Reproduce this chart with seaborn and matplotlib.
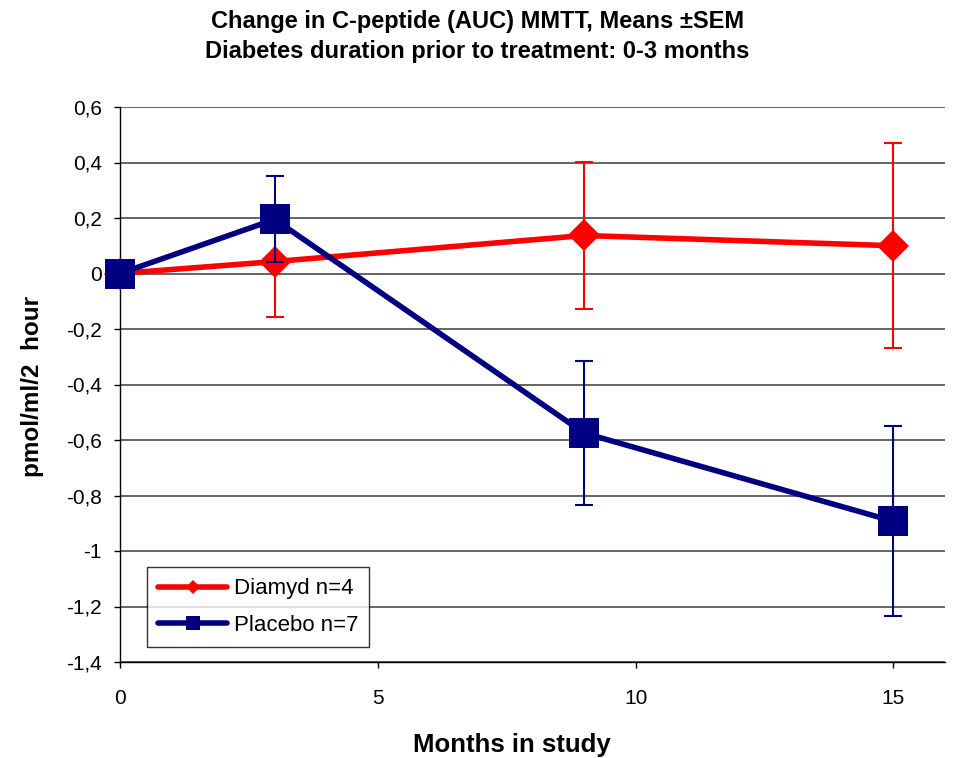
import matplotlib
matplotlib.use("Agg")
import matplotlib.pyplot as plt
import seaborn as sns
import pandas as pd

months = [0, 3, 9, 15]
diamyd_mean = [0.0, 0.043, 0.137, 0.10]
diamyd_sem = [0.0, 0.20, 0.265, 0.37]
placebo_mean = [0.0, 0.195, -0.575, -0.893]
placebo_sem = [0.0, 0.155, 0.258, 0.342]
series_names = ["Diamyd n=4", "Placebo n=7"]
yticks = [0.6, 0.4, 0.2, 0.0, -0.2, -0.4, -0.6, -0.8, -1.0, -1.2, -1.4]
ytick_labels = ["0,6", "0,4", "0,2", "0", "-0,2", "-0,4", "-0,6", "-0,8", "-1", "-1,2", "-1,4"]
xticks = [0, 5, 10, 15]
title_lines = ["Change in C-peptide (AUC) MMTT, Means ±SEM",
               "Diabetes duration prior to treatment: 0-3 months"]

sns.set_style("white")
plt.rcParams['font.family'] = ['Liberation Sans', 'DejaVu Sans']
for k in ["text.color", "axes.labelcolor", "xtick.color", "ytick.color"]:
    plt.rcParams[k] = "black"

df = pd.DataFrame({
    "month": months * 2,
    "value": diamyd_mean + placebo_mean,
    "group": [series_names[0]] * 4 + [series_names[1]] * 4,
})

fig = plt.figure(figsize=(9.55, 7.58), dpi=100)
ax = fig.add_axes([120/955, 1 - 662/758, (945-120)/955, (662-107)/758])

# horizontal gridlines
for yt in yticks:
    ax.axhline(yt, color="#3a3a3a", lw=1.1, zorder=0)

# error bars
ax.errorbar(months, diamyd_mean, yerr=diamyd_sem, fmt="none", ecolor="#FF0000",
            elinewidth=1.5, capsize=6.5, capthick=1.5, zorder=2)
ax.errorbar(months, placebo_mean, yerr=placebo_sem, fmt="none", ecolor="#000080",
            elinewidth=1.5, capsize=6.5, capthick=1.5, zorder=4)

sns.lineplot(data=df[df.group == series_names[0]], x="month", y="value", color="#FF0000",
             marker="D", markersize=16, markeredgewidth=0, lw=4, ax=ax, zorder=3,
             label=series_names[0], clip_on=False)
sns.lineplot(data=df[df.group == series_names[1]], x="month", y="value", color="#000080",
             marker="s", markersize=22, markeredgewidth=0, lw=4, ax=ax, zorder=5,
             label=series_names[1], clip_on=False)

ax.set_xlim(0, 16)
ax.set_ylim(-1.4, 0.6)
ax.set_xticks(xticks)
ax.set_yticks(yticks)
ax.set_yticklabels(ytick_labels)
ax.tick_params(axis="both", direction="out", length=4.5, width=1, color="black",
               labelsize=15, bottom=True, left=True)
ax.tick_params(axis="y", pad=8.5)
ax.tick_params(axis="x", pad=15)
for s in ["top", "right"]:
    ax.spines[s].set_visible(False)
for s in ["left", "bottom"]:
    ax.spines[s].set_color("black")
    ax.spines[s].set_linewidth(1)

ax.set_xlabel("Months in study", fontsize=18.5, fontweight="bold")
ax.xaxis.set_label_coords((512-120)/825, (662-733)/555)
ax.set_ylabel("pmol/ml/2  hour", fontsize=17.5, fontweight="bold")
ax.yaxis.set_label_coords((44-120)/825, 0.497)

fig.text(0.5, 1 - 28/758, title_lines[0], ha="center", va="baseline",
         fontsize=17, fontweight="bold")
fig.text(0.5, 1 - 58/758, title_lines[1], ha="center", va="baseline",
         fontsize=17, fontweight="bold")

leg = ax.legend(loc="lower left", bbox_to_anchor=((147-120)/825, (662-647)/555),
                borderaxespad=0, fontsize=16, frameon=True,
                fancybox=False, edgecolor="black", handlelength=3.1, borderpad=0.5,
                labelspacing=0.7, handletextpad=0.3, markerscale=0.45)
leg.get_frame().set_linewidth(1)
leg.set_zorder(10)

fig.savefig("out.png", dpi=100)
